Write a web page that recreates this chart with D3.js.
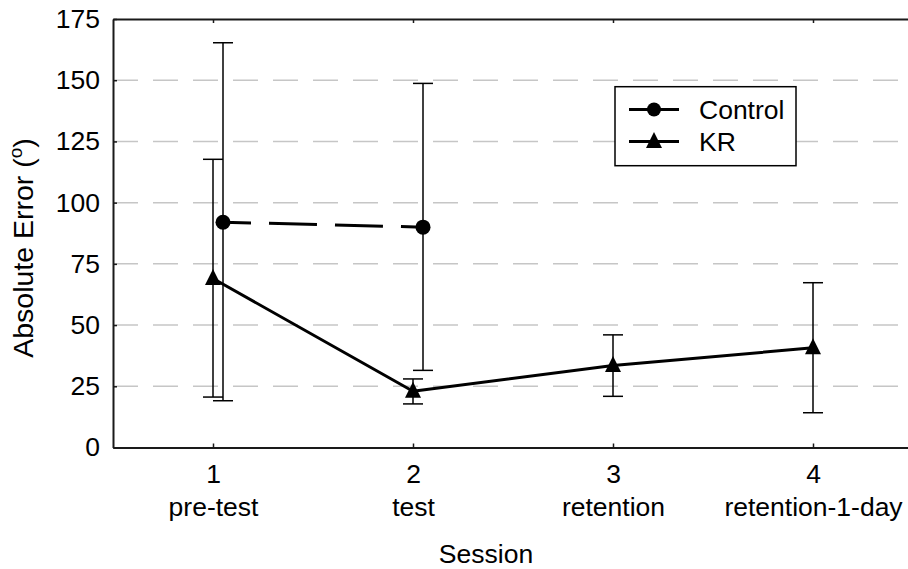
<!DOCTYPE html>
<html>
<head>
<meta charset="utf-8">
<script src="https://cdn.jsdelivr.net/npm/d3@7"></script>
<style>
  html, body { margin: 0; padding: 0; background: #fff; }
  svg { display: block; font-family: "Liberation Sans", Arial, Helvetica, sans-serif; }
</style>
</head>
<body>
<svg id="chart" width="908" height="569"></svg>
<script>
// Session numbers and their names
const sessions = [1, 2, 3, 4];
const sessionNames = ["pre-test", "test", "retention", "retention-1-day"];

// Series names
const seriesNames = ["Control", "KR"];

// Control group (measured only in sessions 1 and 2)
const controlSessions = [1, 2];
const controlMean = [92, 90];
const controlUpper = [165.3, 148.7];
const controlLower = [19.1, 31.5];

// KR group
const krSessions = [1, 2, 3, 4];
const krMean = [69, 23, 33.5, 40.7];
const krUpper = [117.7, 28, 46, 67.3];
const krLower = [20.6, 17.8, 20.9, 14.2];

// Axis ticks
const yTicks = [0, 25, 50, 75, 100, 125, 150, 175];
const gridTicks = [25, 50, 75, 100, 125, 150];

const svg = d3.select("#chart");
const fontSize = 26.5;
const fontFamily = "Liberation Sans, Arial, sans-serif";

const x = d3.scaleLinear().domain([0.5, 4.5]).range([113, 913]);
const y = d3.scaleLinear().domain([0, 175]).range([447.5, 19]);
const controlShift = 0.05;

// dashed horizontal grid
svg.append("g").selectAll("line").data(gridTicks).join("line")
  .attr("x1", x(0.5)).attr("x2", x(4.5))
  .attr("y1", d => y(d)).attr("y2", d => y(d))
  .attr("stroke", "#c6c6c6").attr("stroke-width", 1.5)
  .attr("stroke-dasharray", "25,15");

// axes
const axisColor = "#1a1a1a";
const yAxis = svg.append("g").attr("transform", `translate(${x(0.5)},0)`)
  .call(d3.axisLeft(y).tickValues(yTicks).tickSizeInner(-4).tickSizeOuter(0).tickPadding(13));
const xAxis = svg.append("g").attr("transform", `translate(0,${y(0)})`)
  .call(d3.axisBottom(x).tickValues(sessions).tickFormat(d3.format("d"))
    .tickSizeInner(-4).tickSizeOuter(0));
const topAxis = svg.append("g").attr("transform", `translate(0,${y(175)})`)
  .call(d3.axisTop(x).tickValues(sessions).tickFormat("").tickSizeInner(-4).tickSizeOuter(0));

[yAxis, xAxis, topAxis].forEach(g => {
  g.select(".domain").attr("stroke", axisColor).attr("stroke-width", 2);
  g.selectAll(".tick line").attr("stroke", axisColor).attr("stroke-width", 1.5);
  g.selectAll("text").attr("font-size", fontSize).attr("fill", "#000")
    .attr("font-family", fontFamily);
});
// session numbers: baseline placed explicitly
xAxis.selectAll(".tick text").attr("y", 35.5).attr("dy", null);

// session names below the numbers
xAxis.selectAll(".tick").append("text")
  .attr("y", 68.5)
  .attr("text-anchor", "middle")
  .attr("fill", "#000")
  .attr("font-size", fontSize)
  .attr("font-family", fontFamily)
  .text(d => sessionNames[sessions.indexOf(d)]);

// axis titles
svg.append("text")
  .attr("x", 486).attr("y", 563)
  .attr("text-anchor", "middle")
  .attr("font-size", fontSize)
  .text("Session");

const yTitle = svg.append("text")
  .attr("transform", "translate(33,248) rotate(-90)")
  .attr("text-anchor", "middle")
  .attr("font-size", 28.5);
yTitle.append("tspan").text("Absolute Error (");
yTitle.append("tspan").attr("font-size", 19).attr("dy", -11).text("o");
yTitle.append("tspan").attr("dy", 11).text(")");

// error bars
function errorBars(sess, lo, hi, shift) {
  const g = svg.append("g").attr("stroke", "#000").attr("stroke-width", 1.5);
  const idx = d3.range(sess.length);
  g.selectAll("line.v").data(idx).join("line").attr("class", "v")
    .attr("x1", i => x(sess[i] + shift)).attr("x2", i => x(sess[i] + shift))
    .attr("y1", i => y(lo[i])).attr("y2", i => y(hi[i]));
  g.selectAll("line.hi").data(idx).join("line").attr("class", "hi")
    .attr("x1", i => x(sess[i] + shift) - 10).attr("x2", i => x(sess[i] + shift) + 10)
    .attr("y1", i => y(hi[i])).attr("y2", i => y(hi[i]));
  g.selectAll("line.lo").data(idx).join("line").attr("class", "lo")
    .attr("x1", i => x(sess[i] + shift) - 10).attr("x2", i => x(sess[i] + shift) + 10)
    .attr("y1", i => y(lo[i])).attr("y2", i => y(lo[i]));
}
errorBars(krSessions, krLower, krUpper, 0);
errorBars(controlSessions, controlLower, controlUpper, controlShift);

// series lines
const line = d3.line().x(d => x(d[0])).y(d => y(d[1]));
svg.append("path")
  .attr("d", line(controlSessions.map((s, i) => [s + controlShift, controlMean[i]])))
  .attr("fill", "none").attr("stroke", "#000").attr("stroke-width", 3)
  .attr("stroke-dasharray", "48,18").attr("stroke-dashoffset", 20);
svg.append("path")
  .attr("d", line(krSessions.map((s, i) => [s, krMean[i]])))
  .attr("fill", "none").attr("stroke", "#000").attr("stroke-width", 3)
  .attr("stroke-linejoin", "round");

// markers
const tri = "M0,-9.5L8,6.5L-8,6.5Z";
svg.append("g").selectAll("circle").data(controlSessions).join("circle")
  .attr("cx", (s) => x(s + controlShift))
  .attr("cy", (s, i) => y(controlMean[i]))
  .attr("r", 7.5).attr("fill", "#000");
svg.append("g").selectAll("path").data(krSessions).join("path")
  .attr("d", tri)
  .attr("transform", (s, i) => `translate(${x(s)},${y(krMean[i])})`)
  .attr("fill", "#000");

// legend
const lg = svg.append("g");
lg.append("rect").attr("x", 615).attr("y", 86.7).attr("width", 181).attr("height", 79)
  .attr("fill", "#fff").attr("stroke", "#000").attr("stroke-width", 1.5);
const rows = [109.5, 141.5];
seriesNames.forEach((name, i) => {
  const cy = rows[i];
  lg.append("line").attr("x1", 629).attr("x2", 679).attr("y1", cy).attr("y2", cy)
    .attr("stroke", "#000").attr("stroke-width", 3);
  if (i === 0) {
    lg.append("circle").attr("cx", 654).attr("cy", cy).attr("r", 7).attr("fill", "#000");
  } else {
    lg.append("path").attr("d", tri).attr("transform", `translate(654,${cy})`).attr("fill", "#000");
  }
  lg.append("text").attr("x", 699).attr("y", cy + 9)
    .attr("font-size", fontSize).text(name);
});
</script>
</body>
</html>
